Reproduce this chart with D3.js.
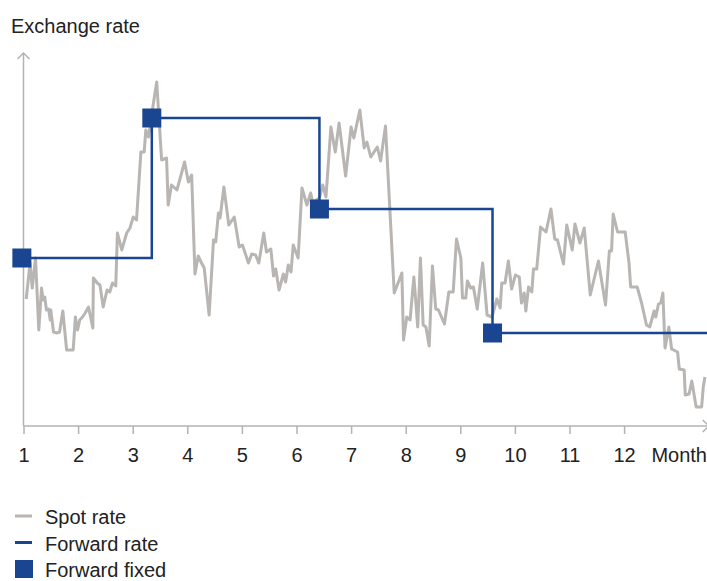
<!DOCTYPE html>
<html>
<head>
<meta charset="utf-8">
<script src="https://cdn.jsdelivr.net/npm/d3@7"></script>
<style>
  body { margin: 0; background: #fff; }
  text { font-family: "Liberation Sans", Arial, sans-serif; fill: #222; }
</style>
</head>
<body>
<div id="chart"></div>
<script>
{
    /*#########
      Data
    #########*/

    //Spot rate: [month, rate]
    const spotRate = [
        [1.05,1.127],[1.12,1.163],[1.16,1.138],[1.22,1.168],[1.28,1.096],[1.33,1.138],[1.36,1.126],[1.39,1.129],
        [1.42,1.116],[1.46,1.117],[1.49,1.106],[1.50,1.116],[1.55,1.094],[1.61,1.093],[1.66,1.094],[1.72,1.115],
        [1.79,1.076],[1.91,1.076],[1.95,1.109],[1.99,1.096],[2.03,1.106],[2.08,1.109],[2.13,1.113],[2.19,1.119],
        [2.27,1.098],[2.28,1.148],[2.35,1.143],[2.40,1.141],[2.46,1.119],[2.53,1.136],[2.58,1.134],[2.63,1.143],
        [2.69,1.140],[2.72,1.193],[2.80,1.176],[2.89,1.193],[2.95,1.198],[3.01,1.209],[3.07,1.206],[3.15,1.274],
        [3.21,1.274],[3.24,1.296],[3.29,1.289],[3.38,1.323],[3.44,1.344],[3.53,1.266],[3.62,1.268],[3.65,1.221],
        [3.71,1.241],[3.81,1.236],[3.95,1.264],[4.02,1.244],[4.08,1.251],[4.14,1.152],[4.20,1.170],[4.26,1.163],
        [4.31,1.158],[4.40,1.111],[4.48,1.186],[4.52,1.184],[4.57,1.213],[4.60,1.208],[4.67,1.239],[4.76,1.201],
        [4.86,1.209],[4.95,1.179],[5.01,1.181],[5.12,1.163],[5.18,1.172],[5.25,1.171],[5.31,1.163],[5.40,1.193],
        [5.45,1.174],[5.53,1.177],[5.58,1.150],[5.62,1.157],[5.68,1.136],[5.76,1.152],[5.80,1.144],[5.85,1.161],
        [5.90,1.154],[5.94,1.181],[6.03,1.168],[6.10,1.238],[6.19,1.221],[6.26,1.233],[6.30,1.223],[6.36,1.226],
        [6.42,1.228],[6.48,1.241],[6.54,1.229],[6.63,1.299],[6.71,1.274],[6.78,1.303],[6.90,1.250],[7.00,1.299],
        [7.05,1.288],[7.16,1.316],[7.24,1.278],[7.29,1.284],[7.36,1.269],[7.48,1.279],[7.54,1.265],[7.63,1.300],
        [7.79,1.133],[7.93,1.153],[7.96,1.086],[8.02,1.109],[8.08,1.106],[8.15,1.149],[8.22,1.099],[8.27,1.168],
        [8.32,1.101],[8.37,1.099],[8.43,1.080],[8.49,1.160],[8.55,1.117],[8.60,1.116],[8.71,1.102],[8.79,1.134],
        [8.87,1.134],[8.93,1.187],[9.01,1.168],[9.04,1.128],[9.10,1.128],[9.13,1.145],[9.19,1.138],[9.24,1.139],
        [9.31,1.117],[9.41,1.163],[9.49,1.111],[9.58,1.109],[9.67,1.127],[9.73,1.118],[9.76,1.143],[9.82,1.143],
        [9.88,1.165],[9.94,1.137],[10.01,1.151],[10.08,1.149],[10.12,1.123],[10.17,1.133],[10.20,1.115],[10.25,1.139],
        [10.31,1.134],[10.34,1.157],[10.40,1.157],[10.47,1.199],[10.57,1.194],[10.66,1.217],[10.73,1.187],[10.78,1.186],
        [10.89,1.162],[10.95,1.201],[11.05,1.176],[11.10,1.202],[11.19,1.183],[11.27,1.198],[11.38,1.131],[11.53,1.165],
        [11.66,1.121],[11.73,1.175],[11.77,1.175],[11.80,1.212],[11.88,1.194],[12.02,1.194],[12.09,1.163],[12.12,1.139],
        [12.24,1.139],[12.32,1.123],[12.41,1.101],[12.47,1.099],[12.55,1.115],[12.58,1.109],[12.63,1.122],[12.67,1.123],
        [12.71,1.133],[12.75,1.078],[12.82,1.099],[12.87,1.077],[12.98,1.074],[13.01,1.057],[13.10,1.056],[13.12,1.031],
        [13.19,1.032],[13.24,1.045],[13.32,1.019],[13.42,1.019],[13.45,1.039],[13.48,1.049]
    ]

    //Forward contracts: month fixed and forward rate
    const fixMonths = [0.97, 3.35, 6.42, 9.59]
    const fwdRates = [1.168, 1.308, 1.217, 1.093]
    const endMonth = 13.55

    //Axis labels
    const months = [1, 2, 3, 4, 5, 6, 7, 8, 9, 10, 11, 12, 13]
    const legendLabels = ["Spot rate", "Forward rate", "Forward fixed"]

    /*#########
      Setup
    #########*/
    const width = 707
    const height = 581
    const grey = "#b8b5b2"
    const axisGrey = "#b3b3b3"
    const blue = "#1a4590"

    const svg = d3.select("#chart")
        .append("svg")
        .attr("width", width)
        .attr("height", height)

    const x = d3.scaleLinear().domain([1, 13]).range([23.5, 678.7])
    const y = d3.scaleLinear().domain([1, 1.37]).range([426, 56])

    //Title
    svg.append("text")
        .attr("x", 11)
        .attr("y", 33)
        .style("font-size", "20px")
        .text("Exchange rate")

    //X axis ticks and labels
    const xAxis = svg.append("g")
        .attr("transform", "translate(0," + y(1) + ")")
        .call(d3.axisBottom(x)
            .tickValues(months)
            .tickSize(8)
            .tickPadding(14)
            .tickFormat(d => d == 13 ? "Month" : d))
    xAxis.select(".domain").remove()
    xAxis.selectAll(".tick line")
        .attr("stroke", axisGrey)
        .attr("stroke-width", 1.5)
        .style("display", d => d == 13 ? "none" : null)
    xAxis.selectAll(".tick text")
        .attr("fill", "#222")
        .style("font-size", "20px")
        .style("font-family", "Liberation Sans, Arial, sans-serif")

    //Axis lines with open arrows
    const xEnd = x(endMonth)
    const axes = svg.append("g")
        .attr("fill", "none")
        .attr("stroke", axisGrey)
        .attr("stroke-width", 1.5)
    axes.append("path").attr("d", `M${x(1)},${y(1)}H${xEnd}`)
    axes.append("path").attr("d", `M${x(1)},${y(1)}V${y(1.373)}`)
    axes.append("path").attr("d", `M${xEnd - 6},${y(1) - 6}L${xEnd},${y(1)}L${xEnd - 6},${y(1) + 6}`)
    axes.append("path").attr("d", `M${x(1) - 6},${y(1.373) + 6}L${x(1)},${y(1.373)}L${x(1) + 6},${y(1.373) + 6}`)

    /*###########
      Lines
    ###########*/

    //Spot line
    svg.append("path")
        .datum(spotRate)
        .attr("d", d3.line().x(d => x(d[0])).y(d => y(d[1])))
        .attr("fill", "none")
        .attr("stroke", grey)
        .attr("stroke-width", 3)
        .attr("stroke-linejoin", "round")

    //Forward step line
    const fwd = fixMonths.map((m, i) => [i == 0 ? 1 : m, fwdRates[i]])
    fwd.push([endMonth, fwdRates[fwdRates.length - 1]])
    svg.append("path")
        .datum(fwd)
        .attr("d", d3.line().x(d => x(d[0])).y(d => y(d[1])).curve(d3.curveStepAfter))
        .attr("fill", "none")
        .attr("stroke", blue)
        .attr("stroke-width", 2.5)

    //Fixed squares
    const sq = 19
    svg.selectAll("rect.fixed")
        .data(fixMonths)
        .join("rect")
        .attr("class", "fixed")
        .attr("x", (d) => x(d) - sq / 2)
        .attr("y", (d, i) => y(fwdRates[i]) - sq / 2)
        .attr("width", sq)
        .attr("height", sq)
        .attr("fill", blue)

    /*###########
      Legend
    ###########*/
    const legend = svg.append("g").attr("transform", "translate(15,516)")
    legendLabels.forEach((label, i) => {
        const g = legend.append("g").attr("transform", "translate(0," + i * 26.5 + ")")
        if (i < 2) {
            g.append("line")
                .attr("x1", 0).attr("x2", 17)
                .attr("stroke", i == 0 ? grey : blue)
                .attr("stroke-width", 3)
        } else {
            g.append("rect")
                .attr("x", 0).attr("y", -9)
                .attr("width", 18).attr("height", 18)
                .attr("fill", blue)
        }
        g.append("text")
            .attr("x", 30)
            .attr("y", 8)
            .style("font-size", "20px")
            .text(label)
    })
}
</script>
</body>
</html>
